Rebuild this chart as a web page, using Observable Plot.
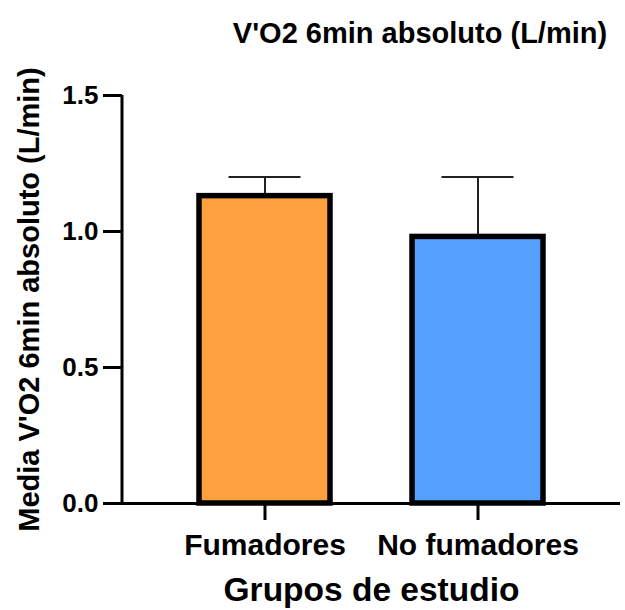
<!DOCTYPE html>
<html>
<head>
<meta charset="utf-8">
<script src="https://cdn.jsdelivr.net/npm/d3@7"></script>
<script src="https://cdn.jsdelivr.net/npm/@observablehq/plot@0.6"></script>
<style>
  html, body { margin: 0; padding: 0; background: #fff; }
  #wrap { width: 625px; height: 610px; position: relative; font-family: "Liberation Sans", Arial, sans-serif; }
  #title { position: absolute; left: 0; top: 0; padding-top: 19px; padding-left: 215px; width: 410px; text-align: center;
           font-size: 29px; line-height: 29px; font-weight: bold; color: #000; white-space: nowrap; z-index: 2; }
  svg { display: block; font-family: "Liberation Sans", Arial, sans-serif; }
</style>
</head>
<body>
<div id="wrap">
  <div id="chart"></div>
  <div id="title"></div>
</div>
<script>
const title = "V'O2 6min absoluto (L/min)";
const yLabel = "Media V'O2 6min absoluto (L/min)";
const xLabel = "Grupos de estudio";
const groups = ["Fumadores", "No fumadores"];
const means = [1.13, 0.98];
const sds = [0.07, 0.22];
const colors = ["#FFA040", "#55A0FF"];
const yTicks = [0, 0.5, 1.0, 1.5];

document.getElementById("title").textContent = title;

const data = groups.map((g, i) => ({group: g, mean: means[i], upper: means[i] + sds[i]}));

const yAxisLine = (index, scales, values, dimensions) => {
  const x = dimensions.marginLeft;
  const line = d3.create("svg:line")
    .attr("x1", x).attr("x2", x)
    .attr("y1", scales.y(0)).attr("y2", scales.y(d3.max(yTicks)))
    .attr("stroke", "#000").attr("stroke-width", 3);
  return line.node();
};

const chart = Plot.plot({
  width: 625,
  height: 610,
  marginTop: 95,
  marginBottom: 107,
  marginLeft: 122,
  marginRight: 5,
  x: {domain: groups, paddingInner: 0.385, paddingOuter: 0.36},
  y: {domain: [0, 1.5]},
  color: {domain: groups, range: colors},
  marks: [
    Plot.ruleX(data, {x: "group", y1: "mean", y2: "upper", stroke: "#222", strokeWidth: 2}),
    Plot.tickY(data, {x: "group", y: "upper", stroke: "#222", strokeWidth: 2, insetLeft: 29.5, insetRight: 29.5}),
    Plot.barY(data, {x: "group", y: "mean", fill: "group", stroke: "#000", strokeWidth: 5.5}),
    Plot.ruleY([0], {stroke: "#000", strokeWidth: 3}),
    yAxisLine,
    Plot.axisY({ticks: yTicks, tickFormat: d3.format(".1f"), tickSize: 19, tickPadding: 5,
                fontSize: 26, fontWeight: "bold", strokeWidth: 3, stroke: "#000", fill: "#000", label: null}),
    Plot.axisX({tickSize: 17, tickPadding: 13, fontSize: 30, fontWeight: "bold",
                strokeWidth: 3, stroke: "#000", fill: "#000", label: null}),
    Plot.text([yLabel], {frameAnchor: "left", textAnchor: "middle", rotate: -90, dx: -93, fontSize: 29, fontWeight: "bold", fill: "#000"}),
    Plot.text([xLabel], {frameAnchor: "bottom", dy: 97, fontSize: 33.5, fontWeight: "bold", fill: "#000"})
  ]
});
document.getElementById("chart").appendChild(chart);
</script>
</body>
</html>
